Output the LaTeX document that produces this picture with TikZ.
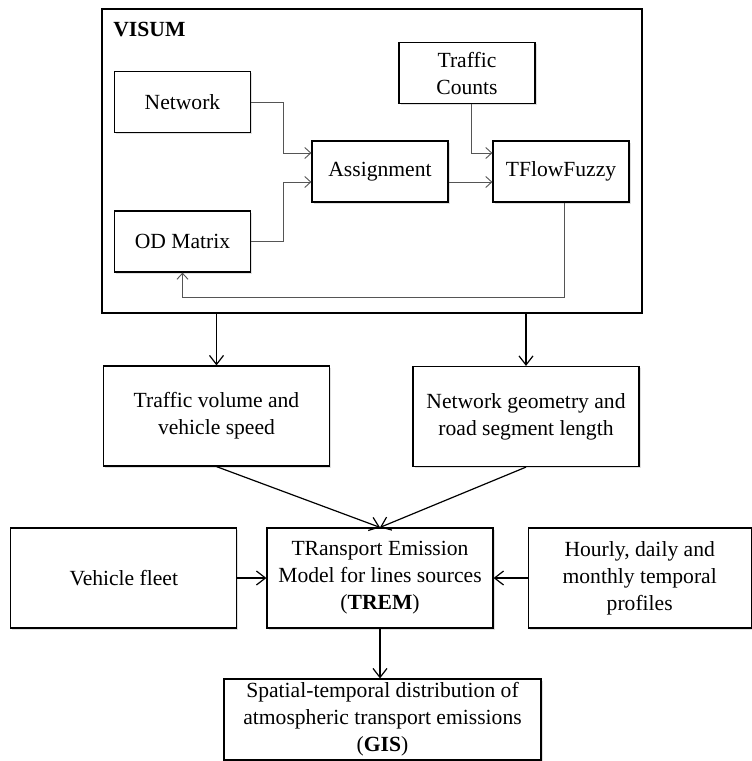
\documentclass[tikz,border=0pt]{standalone}
\usepackage{fontspec}
\setmainfont{Liberation Serif}
\usetikzlibrary{arrows.meta,positioning,shadows}
\definecolor{darkline}{HTML}{555555}

\begin{document}
\begin{tikzpicture}[
    x=0.5pt, y=-0.5pt,
    node distance=14.5pt and 14.5pt,
    box/.style={draw, line width=0.6pt, fill=white, align=center, inner sep=0pt,
      font=\fontsize{10.8}{13.5}\selectfont,
      drop shadow={shadow xshift=0.8pt, shadow yshift=-0.8pt, opacity=0.12, fill=black}},
    small/.style={box, minimum width=68pt, minimum height=30.5pt},
    big/.style={box, minimum width=113pt, minimum height=50pt},
    arr/.style={-{Straight Barb[length=4.5pt,width=7pt]}, line width=0.6pt},
    inarr/.style={-{Straight Barb[length=3pt,width=5.5pt]}, line width=0.45pt, draw=darkline}
  ]
    \useasboundingbox (0,0) rectangle (751,761);

    % VISUM block
    \node[draw, line width=0.6pt, inner sep=0pt, minimum width=270pt, minimum height=152pt] (visum) at (372,161) {};
    \node[anchor=base west, inner sep=0pt, font=\fontsize{10.8}{13.5}\selectfont\bfseries] (visumlbl) at (113,36) {VISUM};

    \node[small] (network) at (182.5,102) {Network};
    \node[small] (odm) at (182.5,241.5) {OD Matrix};
    \node[small] (assign) at (380,171.5) {Assignment};
    \node[small] (tflow) at (561,171.5) {TFlowFuzzy};
    \node[small] (counts) at (467,73) {Traffic\\Counts};

    \draw[inarr] (network.east) -- ++(32,0) |- ([yshift=9.25pt]assign.west);
    \draw[inarr] (odm.east) -- ++(32,0) |- ([yshift=-5.25pt]assign.west);
    \draw[inarr] ([yshift=-5.25pt]assign.east) -- ([yshift=-5.25pt]tflow.west);
    \draw[inarr] ([xshift=2pt]counts.south) |- ([yshift=9.25pt]tflow.west);
    \draw[inarr] ([xshift=1.5pt]tflow.south) -- ++(0,95) -| (odm.south);

    % emission chain
    \node[big] (volume) at (216.5,416) {Traffic volume and\\vehicle speed};
    \node[big] (geom) at (526,416.5) {Network geometry and\\road segment length};

    \node[big] (trem) at (380,578) {TRansport Emission\\Model for lines sources\\(\textbf{TREM})};
    \node[big, left=of trem] (fleet) {Vehicle fleet};
    \node[big, right=17pt of trem, minimum width=111.5pt] (hourly) {Hourly, daily and\\monthly temporal\\profiles};

    \node[box, minimum width=158.5pt, minimum height=40.5pt] (gis) at (382.5,719.5) {Spatial-temporal distribution of\\atmospheric transport emissions\\(\textbf{GIS})};

    \draw[arr] (visum.south -| volume.north) -- (volume.north);
    \draw[arr] (visum.south -| geom.north) -- (geom.north);
    \draw[arr] (volume.south) -- (trem.north);
    \draw[arr] (geom.south) -- (trem.north);
    \draw[arr] (fleet) -- (trem);
    \draw[arr] (hourly) -- (trem);
    \draw[arr] (trem.south) -- (trem.south |- gis.north);
\end{tikzpicture}
\end{document}
